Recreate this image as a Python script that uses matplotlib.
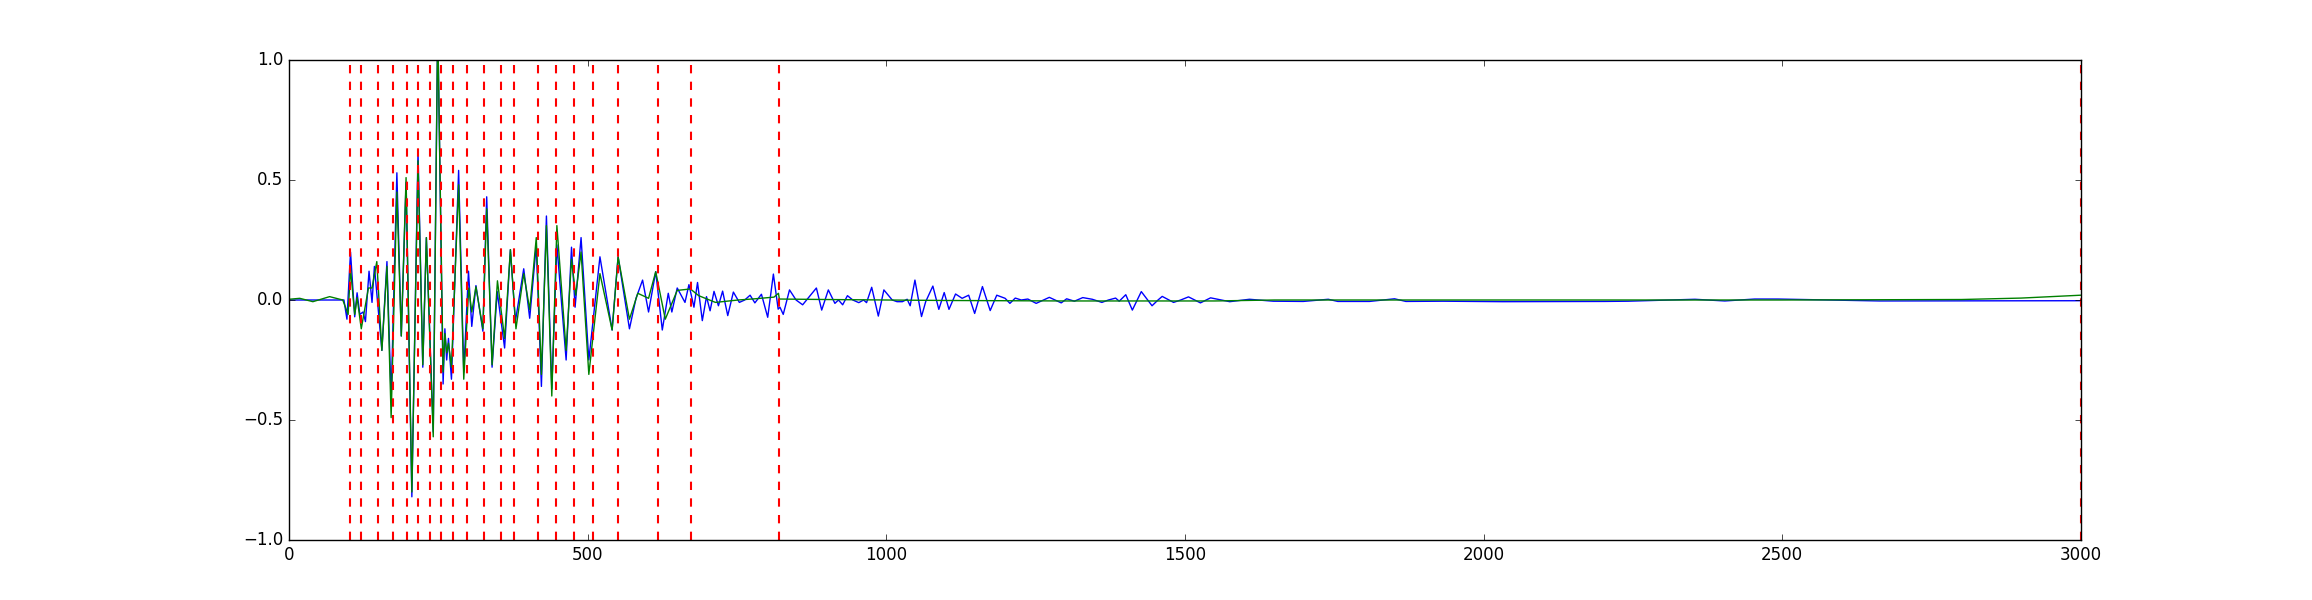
import matplotlib
matplotlib.use("Agg")
import matplotlib.pyplot as plt

# -------- DATA --------
# blue trace: sample index / amplitude at its turning points
blue_x = [0, 92, 97, 103, 110, 114, 118.6, 124, 128, 134, 139, 143, 155.5, 164, 171,
          180.6, 188, 196, 205.7, 216, 224, 230, 241.5, 249, 258, 261, 264, 267, 272,
          284, 292.6, 300.5, 306, 313, 324.6, 331, 340, 348.6, 361, 370.7, 379, 393,
          403, 414, 422.6, 431, 440, 448.5, 464, 473, 479, 489, 502, 511, 520.6, 541,
          551, 570, 581, 592, 602, 614, 625, 635, 641, 650, 663, 669.6, 678, 684, 692,
          699, 705, 711.6, 719, 726, 734.6, 744, 754, 763, 772, 780, 791, 801.5, 811,
          819, 822, 827.5, 838, 849, 860, 883, 891.9, 903, 914, 920, 927, 935, 944,
          954, 962, 967, 975.6, 986.7, 996, 1010, 1018, 1027, 1035, 1040, 1048, 1059,
          1066, 1078, 1088, 1097, 1105, 1116, 1127, 1138, 1148, 1161, 1174, 1185,
          1199, 1207, 1216, 1226, 1237, 1251, 1273, 1293, 1302, 1315, 1329, 1345,
          1361, 1372, 1384, 1390, 1401, 1412, 1427, 1445, 1455, 1462, 1472, 1481,
          1493, 1506, 1526, 1543, 1575, 1608, 1648, 1698, 1740, 1756, 1809, 1851,
          1870, 1932, 2032, 2175, 2203, 2242, 2354, 2404, 2454, 2493, 2663, 3000]
blue_y = [0.0, 0.0, -0.08, 0.20, -0.07, 0.03, -0.06, -0.05, -0.09, 0.12, -0.01, 0.14,
          -0.21, 0.16, -0.41, 0.53, -0.15, 0.49, -0.82, 0.62, -0.28, 0.26, -0.55, 1.15,
          -0.35, -0.12, -0.25, -0.16, -0.33, 0.54, -0.30, 0.12, -0.11, 0.06, -0.13,
          0.43, -0.28, 0.035, -0.20, 0.21, -0.09, 0.13, -0.076, 0.23, -0.36, 0.35,
          -0.37, 0.23, -0.25, 0.22, -0.03, 0.26, -0.25, -0.04, 0.18, -0.125, 0.18,
          -0.12, 0.007, 0.083, -0.05, 0.118, -0.125, 0.028, -0.05, 0.05, -0.01, 0.064,
          -0.03, 0.073, -0.086, 0.014, -0.045, 0.036, -0.024, 0.037, -0.065, 0.033,
          -0.01, 0.0, 0.02, -0.012, 0.024, -0.072, 0.108, -0.038, -0.03, -0.06, 0.042,
          0.0, -0.02, 0.05, -0.042, 0.042, -0.014, 0.0, -0.02, 0.018, 0.0, -0.011, 0.0,
          -0.011, 0.053, -0.067, 0.042, 0.0, -0.007, -0.007, 0.003, -0.024, 0.083,
          -0.069, -0.007, 0.058, -0.039, 0.031, -0.039, 0.025, 0.007, 0.02, -0.056,
          0.056, -0.044, 0.02, 0.007, -0.014, 0.008, 0.0, 0.004, -0.014, 0.011, -0.012,
          0.005, -0.005, 0.01, 0.003, -0.01, 0.0, 0.008, -0.005, 0.022, -0.042, 0.035,
          -0.024, 0.0, 0.015, 0.002, -0.01, 0.0, 0.013, -0.012, 0.009, -0.007, 0.003,
          -0.005, -0.006, 0.003, -0.006, -0.006, 0.005, -0.006, -0.005, -0.007,
          -0.006, -0.006, -0.005, 0.003, -0.004, 0.004, 0.004, -0.004, -0.003]

# green trace
green_x = [0, 18, 40, 68, 90, 99, 103, 110, 114, 121, 133, 139, 147, 155.5, 164, 171,
           180.6, 188, 196, 205.7, 216, 224, 230, 241.5, 249, 258, 261, 264, 267, 272,
           284, 292.6, 301, 306, 313, 324.6, 331, 340, 349, 361, 370.7, 380, 393, 403,
           414, 422.6, 431, 440, 448.5, 464, 473, 480, 489, 502, 520.6, 541, 551, 570,
           584, 602, 614, 630, 650, 672, 686, 714, 752, 780, 812, 819.5, 821, 900,
           1100, 1300, 1550, 1650, 2500, 2800, 2900, 3000]
green_y = [0.003, 0.007, -0.007, 0.014, 0.0, -0.06, 0.13, -0.06, 0.01, -0.12, 0.05,
           0.05, 0.16, -0.21, 0.14, -0.49, 0.45, -0.15, 0.51, -0.80, 0.58, -0.27, 0.26,
           -0.57, 1.15, -0.30, -0.14, -0.22, -0.18, -0.28, 0.48, -0.33, 0.05, -0.05,
           0.055, -0.12, 0.38, -0.27, 0.08, -0.16, 0.21, -0.12, 0.11, -0.04, 0.26,
           -0.31, 0.31, -0.40, 0.31, -0.21, 0.17, 0.02, 0.20, -0.31, 0.11, -0.125,
           0.18, -0.08, 0.028, 0.007, 0.118, -0.08, 0.04, 0.046, 0.018, -0.01, 0.0,
           0.005, 0.012, 0.028, 0.004, 0.002, -0.002, -0.004, -0.004, 0.0, 0.0, 0.002,
           0.008, 0.02]

# picked onsets (red dashed lines)
onsets = [101.4, 119.8, 148.3, 173.4, 196.8, 216.8, 236.9, 255.3, 274.8, 298.8,
          327.2, 355.6, 377.4, 417.5, 447.6, 477.7, 508.9, 551.3, 618.2, 673.4,
          820.6, 3000]
# -----------------------------------------------

plt.style.use("classic")

fig = plt.figure(figsize=(23.12, 6), dpi=100, facecolor="white")
ax = fig.add_subplot(111)

ax.plot(blue_x, blue_y, "b-", lw=1.0)
ax.plot(green_x, green_y, "g-", lw=1.0)
for t in onsets:
    ax.axvline(t, color="r", linestyle="--", lw=1.5)

ax.set_xlim(0, 3000)
ax.set_ylim(-1, 1)

fig.savefig("out.png", dpi=100, facecolor="white")
